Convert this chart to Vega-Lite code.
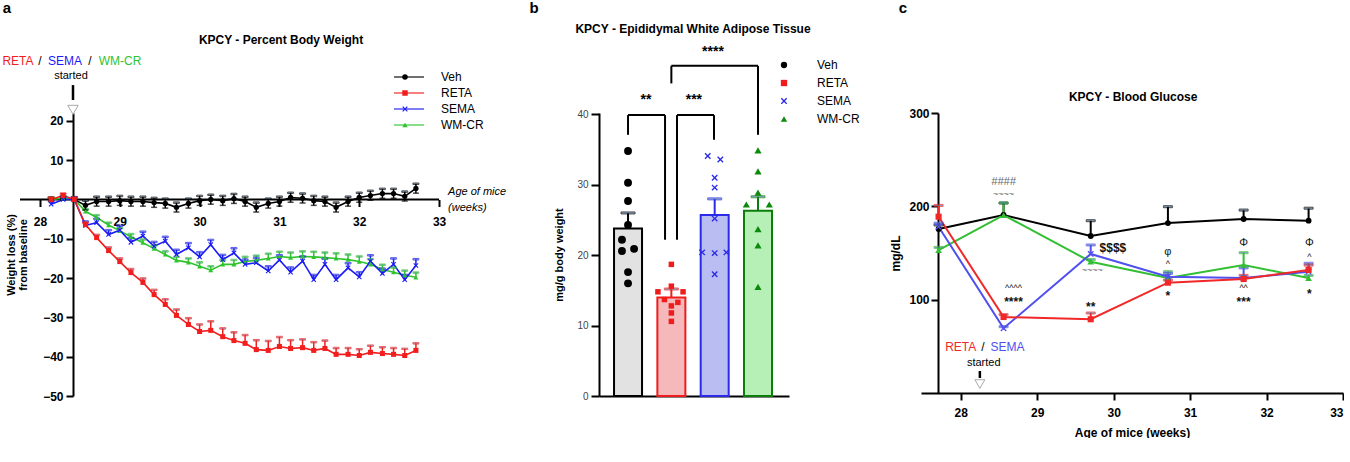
{
"$schema":"https://vega.github.io/schema/vega-lite/v6.json",
"background":"white",
"padding":{"left":2,"top":1,"right":0,"bottom":0},
"config":{
 "font":"Liberation Sans",
 "view":{"stroke":null},
 "axis":{"grid":false,"domainColor":"#000","domainWidth":2,"tickColor":"#000","tickWidth":2,"labelFont":"Liberation Sans","labelFontWeight":"bold","labelFontSize":12,"labelColor":"#000","titleFont":"Liberation Sans","titleFontWeight":"bold","titleFontSize":12,"titleColor":"#000"},
 "legend":{"labelFont":"Liberation Sans","labelColor":"#000"},
 "text":{"font":"Liberation Sans"}
},
"datasets":{
 "bw":[
{"d":28.14,"g":"Veh","v":0,"lo":-0.5,"hi":0.5},{"d":28.29,"g":"Veh","v":0.3,"lo":-0.2,"hi":0.8},{"d":28.43,"g":"Veh","v":0,"lo":-0.5,"hi":0.5},{"d":28.57,"g":"Veh","v":-1.5,"lo":-2.7,"hi":-0.3},{"d":28.71,"g":"Veh","v":-0.5,"lo":-1.7,"hi":0.7},{"d":28.86,"g":"Veh","v":-0.5,"lo":-1.7,"hi":0.7},{"d":29.0,"g":"Veh","v":-0.3,"lo":-1.5,"hi":0.9},{"d":29.14,"g":"Veh","v":-0.5,"lo":-1.7,"hi":0.7},{"d":29.29,"g":"Veh","v":-0.5,"lo":-1.7,"hi":0.7},{"d":29.43,"g":"Veh","v":-0.8,"lo":-2.0,"hi":0.4},{"d":29.57,"g":"Veh","v":-1.0,"lo":-2.2,"hi":0.2},{"d":29.71,"g":"Veh","v":-2.0,"lo":-3.2,"hi":-0.8},{"d":29.86,"g":"Veh","v":-1.0,"lo":-2.2,"hi":0.2},{"d":30.0,"g":"Veh","v":-0.3,"lo":-1.5,"hi":0.9},{"d":30.14,"g":"Veh","v":0,"lo":-1.2,"hi":1.2},{"d":30.29,"g":"Veh","v":-0.3,"lo":-1.5,"hi":0.9},{"d":30.43,"g":"Veh","v":0.2,"lo":-1.0,"hi":1.4},{"d":30.57,"g":"Veh","v":-0.5,"lo":-1.7,"hi":0.7},{"d":30.71,"g":"Veh","v":-2.0,"lo":-3.2,"hi":-0.8},{"d":30.86,"g":"Veh","v":-1.0,"lo":-2.2,"hi":0.2},{"d":31.0,"g":"Veh","v":-0.5,"lo":-1.7,"hi":0.7},{"d":31.14,"g":"Veh","v":0.5,"lo":-0.7,"hi":1.7},{"d":31.29,"g":"Veh","v":0.3,"lo":-0.9,"hi":1.5},{"d":31.43,"g":"Veh","v":-0.3,"lo":-1.5,"hi":0.9},{"d":31.57,"g":"Veh","v":-0.5,"lo":-1.7,"hi":0.7},{"d":31.71,"g":"Veh","v":-2.0,"lo":-3.2,"hi":-0.8},{"d":31.86,"g":"Veh","v":-0.5,"lo":-1.7,"hi":0.7},{"d":32.0,"g":"Veh","v":0.5,"lo":-0.7,"hi":1.7},{"d":32.14,"g":"Veh","v":1.0,"lo":-0.2,"hi":2.2},{"d":32.29,"g":"Veh","v":1.5,"lo":0.3,"hi":2.7},{"d":32.43,"g":"Veh","v":1.5,"lo":0.3,"hi":2.7},{"d":32.57,"g":"Veh","v":0.8,"lo":-0.4,"hi":2.0},{"d":32.71,"g":"Veh","v":2.8,"lo":1.6,"hi":4.0},
{"d":28.14,"g":"WM-CR","v":0,"hi":0.5},{"d":28.29,"g":"WM-CR","v":0.3,"hi":0.8},{"d":28.43,"g":"WM-CR","v":0,"hi":0.5},{"d":28.57,"g":"WM-CR","v":-3.0,"hi":-2.5},{"d":28.71,"g":"WM-CR","v":-4.6,"hi":-4.0},{"d":28.86,"g":"WM-CR","v":-6.5,"hi":-5.9},{"d":29.0,"g":"WM-CR","v":-8.0,"hi":-7.3},{"d":29.14,"g":"WM-CR","v":-9.5,"hi":-8.8},{"d":29.29,"g":"WM-CR","v":-11.0,"hi":-10.2},{"d":29.43,"g":"WM-CR","v":-12.5,"hi":-11.7},{"d":29.57,"g":"WM-CR","v":-14.0,"hi":-13.2},{"d":29.71,"g":"WM-CR","v":-15.5,"hi":-14.6},{"d":29.86,"g":"WM-CR","v":-16.0,"hi":-15.0},{"d":30.0,"g":"WM-CR","v":-17.0,"hi":-16.0},{"d":30.14,"g":"WM-CR","v":-18.0,"hi":-17.0},{"d":30.29,"g":"WM-CR","v":-16.5,"hi":-15.4},{"d":30.43,"g":"WM-CR","v":-16.5,"hi":-15.4},{"d":30.57,"g":"WM-CR","v":-15.8,"hi":-14.6},{"d":30.71,"g":"WM-CR","v":-15.5,"hi":-14.3},{"d":30.86,"g":"WM-CR","v":-15.0,"hi":-13.8},{"d":31.0,"g":"WM-CR","v":-14.5,"hi":-13.3},{"d":31.14,"g":"WM-CR","v":-14.8,"hi":-13.5},{"d":31.29,"g":"WM-CR","v":-14.5,"hi":-13.2},{"d":31.43,"g":"WM-CR","v":-14.6,"hi":-13.3},{"d":31.57,"g":"WM-CR","v":-14.8,"hi":-13.5},{"d":31.71,"g":"WM-CR","v":-15.0,"hi":-13.7},{"d":31.86,"g":"WM-CR","v":-15.3,"hi":-14.0},{"d":32.0,"g":"WM-CR","v":-15.8,"hi":-14.5},{"d":32.14,"g":"WM-CR","v":-16.5,"hi":-15.2},{"d":32.29,"g":"WM-CR","v":-17.8,"hi":-16.6},{"d":32.43,"g":"WM-CR","v":-18.5,"hi":-17.3},{"d":32.57,"g":"WM-CR","v":-19.3,"hi":-18.1},{"d":32.71,"g":"WM-CR","v":-19.8,"hi":-18.6},
{"d":28.14,"g":"SEMA","v":-1.2,"hi":-0.4},{"d":28.29,"g":"SEMA","v":0,"hi":0.6},{"d":28.43,"g":"SEMA","v":0,"hi":0.6},{"d":28.57,"g":"SEMA","v":-6.6,"hi":-5.6},{"d":28.71,"g":"SEMA","v":-5.9,"hi":-4.9},{"d":28.86,"g":"SEMA","v":-8.9,"hi":-7.8},{"d":29.0,"g":"SEMA","v":-7.8,"hi":-6.7},{"d":29.14,"g":"SEMA","v":-10.9,"hi":-9.8},{"d":29.29,"g":"SEMA","v":-9.3,"hi":-8.2},{"d":29.43,"g":"SEMA","v":-11.9,"hi":-10.8},{"d":29.57,"g":"SEMA","v":-10.6,"hi":-9.5},{"d":29.71,"g":"SEMA","v":-14.0,"hi":-12.8},{"d":29.86,"g":"SEMA","v":-12.3,"hi":-11.1},{"d":30.0,"g":"SEMA","v":-14.6,"hi":-13.4},{"d":30.14,"g":"SEMA","v":-11.5,"hi":-10.3},{"d":30.29,"g":"SEMA","v":-15.3,"hi":-14.1},{"d":30.43,"g":"SEMA","v":-13.6,"hi":-12.4},{"d":30.57,"g":"SEMA","v":-16.5,"hi":-15.3},{"d":30.71,"g":"SEMA","v":-16.1,"hi":-14.9},{"d":30.86,"g":"SEMA","v":-18.2,"hi":-17.0},{"d":31.0,"g":"SEMA","v":-15.4,"hi":-14.2},{"d":31.14,"g":"SEMA","v":-18.5,"hi":-17.3},{"d":31.29,"g":"SEMA","v":-15.7,"hi":-14.5},{"d":31.43,"g":"SEMA","v":-20.4,"hi":-19.2},{"d":31.57,"g":"SEMA","v":-16.5,"hi":-15.1},{"d":31.71,"g":"SEMA","v":-20.4,"hi":-19.2},{"d":31.86,"g":"SEMA","v":-17.4,"hi":-16.2},{"d":32.0,"g":"SEMA","v":-19.7,"hi":-18.5},{"d":32.14,"g":"SEMA","v":-15.7,"hi":-14.2},{"d":32.29,"g":"SEMA","v":-18.8,"hi":-17.6},{"d":32.43,"g":"SEMA","v":-16.5,"hi":-15.0},{"d":32.57,"g":"SEMA","v":-20.4,"hi":-19.2},{"d":32.71,"g":"SEMA","v":-16.8,"hi":-15.2},
{"d":28.14,"g":"RETA","v":0,"hi":0.5},{"d":28.29,"g":"RETA","v":1.0,"hi":1.5},{"d":28.43,"g":"RETA","v":0,"hi":0.5},{"d":28.57,"g":"RETA","v":-6.4,"hi":-5.9},{"d":28.71,"g":"RETA","v":-9.7,"hi":-9.0},{"d":28.86,"g":"RETA","v":-13.0,"hi":-12.2},{"d":29.0,"g":"RETA","v":-15.8,"hi":-15.0},{"d":29.14,"g":"RETA","v":-18.6,"hi":-17.7},{"d":29.29,"g":"RETA","v":-21.1,"hi":-20.1},{"d":29.43,"g":"RETA","v":-24.2,"hi":-23.0},{"d":29.57,"g":"RETA","v":-26.7,"hi":-25.4},{"d":29.71,"g":"RETA","v":-29.5,"hi":-28.0},{"d":29.86,"g":"RETA","v":-31.8,"hi":-30.2},{"d":30.0,"g":"RETA","v":-33.6,"hi":-31.8},{"d":30.14,"g":"RETA","v":-33.3,"hi":-31.0},{"d":30.29,"g":"RETA","v":-34.9,"hi":-32.8},{"d":30.43,"g":"RETA","v":-35.9,"hi":-33.8},{"d":30.57,"g":"RETA","v":-36.6,"hi":-34.5},{"d":30.71,"g":"RETA","v":-38.2,"hi":-35.8},{"d":30.86,"g":"RETA","v":-38.4,"hi":-36.0},{"d":31.0,"g":"RETA","v":-37.4,"hi":-35.0},{"d":31.14,"g":"RETA","v":-37.9,"hi":-35.8},{"d":31.29,"g":"RETA","v":-37.7,"hi":-35.6},{"d":31.43,"g":"RETA","v":-38.4,"hi":-36.3},{"d":31.57,"g":"RETA","v":-37.9,"hi":-35.9},{"d":31.71,"g":"RETA","v":-39.4,"hi":-37.8},{"d":31.86,"g":"RETA","v":-39.4,"hi":-37.8},{"d":32.0,"g":"RETA","v":-39.7,"hi":-38.1},{"d":32.14,"g":"RETA","v":-38.9,"hi":-37.2},{"d":32.29,"g":"RETA","v":-39.2,"hi":-37.6},{"d":32.43,"g":"RETA","v":-39.4,"hi":-37.8},{"d":32.57,"g":"RETA","v":-39.7,"hi":-38.0},{"d":32.71,"g":"RETA","v":-38.4,"hi":-36.6}
 ],
 "aAnn":[{"t":"RETA","x":27.725,"y":35.2,"g":"RETA"},{"t":"/","x":28.0,"y":35.2,"g":"Veh"},{"t":"SEMA","x":28.314,"y":35.2,"g":"SEMA"},{"t":"/","x":28.627,"y":35.2,"g":"Veh"},{"t":"WM-CR","x":29.003,"y":35.2,"g":"WM-CR"}],
 "eatBars":[{"g":"Veh","gx":1,"mean":23.8,"hi":26.0},{"g":"RETA","gx":2,"mean":14.0,"hi":15.2},{"g":"SEMA","gx":3,"mean":25.7,"hi":28.0},{"g":"WM-CR","gx":4,"mean":26.3,"hi":28.3}],
 "eatPts":[
{"g":"Veh","gx":1,"v":34.8},{"g":"Veh","gx":1,"v":30.3},{"g":"Veh","gx":1,"v":27.7},{"g":"Veh","gx":1,"v":24.3},{"g":"Veh","gx":0.86,"v":22.2},{"g":"Veh","gx":1.14,"v":20.9},{"g":"Veh","gx":0.86,"v":20.6},{"g":"Veh","gx":1,"v":17.6},{"g":"Veh","gx":1,"v":16.0},
{"g":"RETA","gx":2,"v":18.7},{"g":"RETA","gx":2,"v":15.6},{"g":"RETA","gx":1.69,"v":14.8},{"g":"RETA","gx":2.27,"v":14.8},{"g":"RETA","gx":1.84,"v":13.7},{"g":"RETA","gx":2.15,"v":13.3},{"g":"RETA","gx":2,"v":12.8},{"g":"RETA","gx":2,"v":11.8},{"g":"RETA","gx":2,"v":10.6},
{"g":"SEMA","gx":2.84,"v":34.1},{"g":"SEMA","gx":3.13,"v":33.6},{"g":"SEMA","gx":3,"v":31.0},{"g":"SEMA","gx":3,"v":29.6},{"g":"SEMA","gx":3,"v":25.2},{"g":"SEMA","gx":2.71,"v":20.4},{"g":"SEMA","gx":3,"v":20.3},{"g":"SEMA","gx":3.27,"v":20.4},{"g":"SEMA","gx":3,"v":17.3},
{"g":"WM-CR","gx":4,"v":34.9},{"g":"WM-CR","gx":4,"v":31.9},{"g":"WM-CR","gx":4,"v":28.9},{"g":"WM-CR","gx":3.73,"v":27.2},{"g":"WM-CR","gx":4.26,"v":27.2},{"g":"WM-CR","gx":4,"v":23.7},{"g":"WM-CR","gx":4,"v":21.4},{"g":"WM-CR","gx":4,"v":15.5}
 ],
 "brackets":[{"x":1,"x2":1,"y":37.1,"y2":39.9},{"x":1,"x2":1.854,"y":39.9,"y2":39.9},{"x":1.854,"x2":1.854,"y":39.9,"y2":22.2},{"x":2.13,"x2":2.13,"y":22.2,"y2":39.9},{"x":2.13,"x2":2.984,"y":39.9,"y2":39.9},{"x":2.984,"x2":2.984,"y":39.9,"y2":36.4},{"x":2,"x2":2,"y":44.4,"y2":46.9},{"x":2,"x2":4,"y":46.9,"y2":46.9},{"x":4,"x2":4,"y":46.9,"y2":37.1}],
 "bstars":[{"t":"**","x":1.415,"y":42.0},{"t":"***","x":2.52,"y":42.0},{"t":"****","x":2.96,"y":48.9}],
 "bg":[
{"d":27.71,"g":"Veh","v":175.7,"hi":180},{"d":28.56,"g":"Veh","v":190.7,"hi":203.6},{"d":29.70,"g":"Veh","v":168.2,"hi":184.6},{"d":30.71,"g":"Veh","v":182.1,"hi":199.6},{"d":31.70,"g":"Veh","v":186.4,"hi":196},{"d":32.55,"g":"Veh","v":184.6,"hi":198},
{"d":27.71,"g":"WM-CR","v":153.2,"hi":156},{"d":28.56,"g":"WM-CR","v":190.7,"hi":203.6},{"d":29.70,"g":"WM-CR","v":140.7,"hi":143},{"d":30.71,"g":"WM-CR","v":123.2,"hi":130},{"d":31.70,"g":"WM-CR","v":137.1,"hi":150.3},{"d":32.55,"g":"WM-CR","v":123.2,"hi":126},
{"d":27.71,"g":"SEMA","v":178.2,"hi":182},{"d":28.56,"g":"SEMA","v":69.3,"hi":71},{"d":29.70,"g":"SEMA","v":149,"hi":158.6},{"d":30.71,"g":"SEMA","v":124.6,"hi":128},{"d":31.70,"g":"SEMA","v":123.2,"hi":134},{"d":32.55,"g":"SEMA","v":130,"hi":139},
{"d":27.71,"g":"RETA","v":188.9,"hi":201},{"d":28.56,"g":"RETA","v":81.4,"hi":84},{"d":29.70,"g":"RETA","v":79,"hi":85.7},{"d":30.71,"g":"RETA","v":118.2,"hi":121},{"d":31.70,"g":"RETA","v":122.1,"hi":126},{"d":32.55,"g":"RETA","v":131.8,"hi":137}
 ],
 "cStars":[{"t":"****","x":28.69,"y":97},{"t":"$$$$","x":29.99,"y":155},{"t":"**","x":29.70,"y":92},{"t":"*","x":30.71,"y":104},{"t":"***","x":31.70,"y":97},{"t":"*","x":32.56,"y":106}],
 "cPhi":[{"t":"φ","x":30.71,"y":151},{"t":"Φ","x":31.70,"y":161},{"t":"Φ","x":32.56,"y":161}],
 "cCaret":[{"t":"^^^^","x":28.69,"y":112},{"t":"^","x":30.71,"y":138},{"t":"^^","x":31.70,"y":112},{"t":"^","x":32.56,"y":146}],
 "cGray":[{"t":"~~~~","x":28.56,"y":213},{"t":"~~~~","x":29.72,"y":132}],
 "cAnn":[{"t":"RETA","x":28.0,"y":49.3,"g":"RETA"},{"t":"/","x":28.29,"y":49.3,"g":"Veh"},{"t":"SEMA","x":28.61,"y":49.3,"g":"SEMA"}]
},
"spacing":132,
"bounds":"flush",
"resolve":{"scale":{"color":"independent","shape":"independent","size":"independent","fill":"independent","stroke":"independent"},"legend":{"color":"independent","shape":"independent","size":"independent","fill":"independent","stroke":"independent"}},
"hconcat":[
{
"width":447,"height":283,
"layer":[
 {"data":{"values":[{}]},"mark":{"type":"rule","strokeWidth":2,"color":"#000"},"encoding":{
   "x":{"datum":27.75,"type":"quantitative","scale":{"domain":[27.75,33.35],"nice":false,"zero":false},"axis":{"values":[28,29,30,31,32,33],"format":"d","offset":-196.5,"domain":false,"tickSize":7,"labelPadding":10,"title":null}},"x2":{"datum":33},
   "y":{"datum":0,"type":"quantitative","scale":{"domain":[-50,22],"nice":false,"zero":false},"axis":{"values":[20,10,-10,-20,-30,-40,-50],"offset":-53,"tickSize":7,"labelPadding":3,"title":["Weight loss (%)","from baseline"],"titleFontSize":11,"titlePadding":14,"titleLineHeight":12}}}},
 {"data":{"name":"bw"},"mark":{"type":"line","strokeWidth":1.6},"encoding":{
   "x":{"field":"d","type":"quantitative","scale":{"domain":[27.75,33.35],"nice":false,"zero":false},"axis":{"values":[28,29,30,31,32,33],"format":"d","offset":-196.5,"domain":false,"tickSize":7,"labelPadding":10,"title":null}},
   "y":{"field":"v","type":"quantitative","scale":{"domain":[-50,22],"nice":false,"zero":false},"axis":{"values":[20,10,-10,-20,-30,-40,-50],"offset":-53,"tickSize":7,"labelPadding":3,"title":["Weight loss (%)","from baseline"],"titleFontSize":11,"titlePadding":14,"titleLineHeight":12}},
   "stroke":{"field":"g","type":"nominal","scale":{"domain":["RETA","SEMA","WM-CR","Veh"],"range":["#f21d1d","#1b1bf5","#2fc42f","#000000"]},"legend":{"title":null,"orient":"none","legendX":373,"legendY":-42,"padding":0,"values":["Veh","RETA","SEMA","WM-CR"],"symbolType":"stroke","symbolSize":900,"symbolStrokeWidth":1.6,"clipHeight":12,"labelExpr":"''","labelFontSize":12,"rowPadding":4}}}},
 {"data":{"name":"bw"},"mark":{"type":"rule","strokeWidth":1.5},"encoding":{
   "x":{"field":"d","type":"quantitative","scale":{"domain":[27.75,33.35],"nice":false,"zero":false},"axis":{"values":[28,29,30,31,32,33],"format":"d","offset":-196.5,"domain":false,"tickSize":7,"labelPadding":10,"title":null}},
   "y":{"field":"v","type":"quantitative","scale":{"domain":[-50,22],"nice":false,"zero":false},"axis":{"values":[20,10,-10,-20,-30,-40,-50],"offset":-53,"tickSize":7,"labelPadding":3,"title":["Weight loss (%)","from baseline"],"titleFontSize":11,"titlePadding":14,"titleLineHeight":12}},"y2":{"field":"hi"},
   "stroke":{"field":"g","type":"nominal","scale":{"domain":["RETA","SEMA","WM-CR","Veh"],"range":["#f21d1d","#1b1bf5","#2fc42f","#000000"]},"legend":{"title":null,"orient":"none","legendX":373,"legendY":-42,"padding":0,"values":["Veh","RETA","SEMA","WM-CR"],"symbolType":"stroke","symbolSize":900,"symbolStrokeWidth":1.6,"clipHeight":12,"labelExpr":"''","labelFontSize":12,"rowPadding":4}}}},
 {"data":{"name":"bw"},"mark":{"type":"tick","orient":"horizontal","size":6,"thickness":1.5},"encoding":{
   "x":{"field":"d","type":"quantitative","scale":{"domain":[27.75,33.35],"nice":false,"zero":false},"axis":{"values":[28,29,30,31,32,33],"format":"d","offset":-196.5,"domain":false,"tickSize":7,"labelPadding":10,"title":null}},
   "y":{"field":"hi","type":"quantitative","scale":{"domain":[-50,22],"nice":false,"zero":false},"axis":{"values":[20,10,-10,-20,-30,-40,-50],"offset":-53,"tickSize":7,"labelPadding":3,"title":["Weight loss (%)","from baseline"],"titleFontSize":11,"titlePadding":14,"titleLineHeight":12}},
   "stroke":{"field":"g","type":"nominal","scale":{"domain":["RETA","SEMA","WM-CR","Veh"],"range":["#f21d1d","#1b1bf5","#2fc42f","#000000"]},"legend":{"title":null,"orient":"none","legendX":373,"legendY":-42,"padding":0,"values":["Veh","RETA","SEMA","WM-CR"],"symbolType":"stroke","symbolSize":900,"symbolStrokeWidth":1.6,"clipHeight":12,"labelExpr":"''","labelFontSize":12,"rowPadding":4}}}},
 {"data":{"name":"bw"},"transform":[{"filter":"isValid(datum.lo)"}],"mark":{"type":"rule","strokeWidth":1.5,"color":"#000"},"encoding":{
   "x":{"field":"d","type":"quantitative","scale":{"domain":[27.75,33.35],"nice":false,"zero":false},"axis":{"values":[28,29,30,31,32,33],"format":"d","offset":-196.5,"domain":false,"tickSize":7,"labelPadding":10,"title":null}},
   "y":{"field":"lo","type":"quantitative","scale":{"domain":[-50,22],"nice":false,"zero":false},"axis":{"values":[20,10,-10,-20,-30,-40,-50],"offset":-53,"tickSize":7,"labelPadding":3,"title":["Weight loss (%)","from baseline"],"titleFontSize":11,"titlePadding":14,"titleLineHeight":12}},"y2":{"field":"v"}}},
 {"data":{"name":"bw"},"transform":[{"filter":"isValid(datum.lo)"}],"mark":{"type":"tick","orient":"horizontal","size":6,"thickness":1.5,"color":"#000"},"encoding":{
   "x":{"field":"d","type":"quantitative","scale":{"domain":[27.75,33.35],"nice":false,"zero":false},"axis":{"values":[28,29,30,31,32,33],"format":"d","offset":-196.5,"domain":false,"tickSize":7,"labelPadding":10,"title":null}},
   "y":{"field":"lo","type":"quantitative","scale":{"domain":[-50,22],"nice":false,"zero":false},"axis":{"values":[20,10,-10,-20,-30,-40,-50],"offset":-53,"tickSize":7,"labelPadding":3,"title":["Weight loss (%)","from baseline"],"titleFontSize":11,"titlePadding":14,"titleLineHeight":12}}}},
 {"data":{"name":"bw"},"mark":{"type":"point","filled":true,"opacity":1},"encoding":{
   "x":{"field":"d","type":"quantitative","scale":{"domain":[27.75,33.35],"nice":false,"zero":false},"axis":{"values":[28,29,30,31,32,33],"format":"d","offset":-196.5,"domain":false,"tickSize":7,"labelPadding":10,"title":null}},
   "y":{"field":"v","type":"quantitative","scale":{"domain":[-50,22],"nice":false,"zero":false},"axis":{"values":[20,10,-10,-20,-30,-40,-50],"offset":-53,"tickSize":7,"labelPadding":3,"title":["Weight loss (%)","from baseline"],"titleFontSize":11,"titlePadding":14,"titleLineHeight":12}},
   "color":{"field":"g","type":"nominal","scale":{"domain":["Veh","RETA","SEMA","WM-CR"],"range":["#000000","#f21d1d","#1b1bf5","#2fc42f"]},
     "legend":{"title":null,"orient":"none","legendX":379,"legendY":-42,"padding":0,"labelFontSize":12,"symbolSize":30,"labelOffset":30,"rowPadding":4,"clipHeight":12}},
   "shape":{"field":"g","type":"nominal","scale":{"domain":["Veh","RETA","SEMA","WM-CR"],"range":["circle","square","M-1,-0.7L-0.7,-1L0,-0.3L0.7,-1L1,-0.7L0.3,0L1,0.7L0.7,1L0,0.3L-0.7,1L-1,0.7L-0.3,0Z","triangle-up"]},
     "legend":{"title":null,"orient":"none","legendX":379,"legendY":-42,"padding":0,"labelFontSize":12,"symbolSize":30,"labelOffset":30,"rowPadding":4,"clipHeight":12}},
   "size":{"field":"g","type":"nominal","scale":{"domain":["WM-CR","RETA","SEMA","Veh"],"range":[24,28,55,20]},"legend":null}}},
 {"data":{"name":"aAnn"},"mark":{"type":"text","fontSize":12},"encoding":{
   "x":{"field":"x","type":"quantitative","scale":{"domain":[27.75,33.35],"nice":false,"zero":false},"axis":{"values":[28,29,30,31,32,33],"format":"d","offset":-196.5,"domain":false,"tickSize":7,"labelPadding":10,"title":null}},
   "y":{"field":"y","type":"quantitative","scale":{"domain":[-50,22],"nice":false,"zero":false},"axis":{"values":[20,10,-10,-20,-30,-40,-50],"offset":-53,"tickSize":7,"labelPadding":3,"title":["Weight loss (%)","from baseline"],"titleFontSize":11,"titlePadding":14,"titleLineHeight":12}},
   "text":{"field":"t"},
   "fill":{"field":"g","type":"nominal","scale":{"domain":["SEMA","RETA","WM-CR","Veh"],"range":["#1b1bf5","#f21d1d","#2fc42f","#000000"]},"legend":null}}},
 {"data":{"values":[{}]},"mark":{"type":"text","text":"a","fontSize":15,"fontWeight":"bold","color":"#000"},"encoding":{
   "x":{"datum":27.587,"type":"quantitative","scale":{"domain":[27.75,33.35],"nice":false,"zero":false},"axis":{"values":[28,29,30,31,32,33],"format":"d","offset":-196.5,"domain":false,"tickSize":7,"labelPadding":10,"title":null}},
   "y":{"datum":48.7,"type":"quantitative","scale":{"domain":[-50,22],"nice":false,"zero":false},"axis":{"values":[20,10,-10,-20,-30,-40,-50],"offset":-53,"tickSize":7,"labelPadding":3,"title":["Weight loss (%)","from baseline"],"titleFontSize":11,"titlePadding":14,"titleLineHeight":12}}}},
 {"data":{"values":[{}]},"mark":{"type":"text","text":"KPCY - Percent Body Weight","fontSize":12,"fontWeight":"bold","color":"#000"},"encoding":{
   "x":{"datum":31.02,"type":"quantitative","scale":{"domain":[27.75,33.35],"nice":false,"zero":false},"axis":{"values":[28,29,30,31,32,33],"format":"d","offset":-196.5,"domain":false,"tickSize":7,"labelPadding":10,"title":null}},
   "y":{"datum":40.6,"type":"quantitative","scale":{"domain":[-50,22],"nice":false,"zero":false},"axis":{"values":[20,10,-10,-20,-30,-40,-50],"offset":-53,"tickSize":7,"labelPadding":3,"title":["Weight loss (%)","from baseline"],"titleFontSize":11,"titlePadding":14,"titleLineHeight":12}}}},
 {"data":{"values":[{}]},"mark":{"type":"text","text":"started","fontSize":11,"color":"#000"},"encoding":{
   "x":{"datum":28.389,"type":"quantitative","scale":{"domain":[27.75,33.35],"nice":false,"zero":false},"axis":{"values":[28,29,30,31,32,33],"format":"d","offset":-196.5,"domain":false,"tickSize":7,"labelPadding":10,"title":null}},
   "y":{"datum":31.4,"type":"quantitative","scale":{"domain":[-50,22],"nice":false,"zero":false},"axis":{"values":[20,10,-10,-20,-30,-40,-50],"offset":-53,"tickSize":7,"labelPadding":3,"title":["Weight loss (%)","from baseline"],"titleFontSize":11,"titlePadding":14,"titleLineHeight":12}}}},
 {"data":{"values":[{}]},"mark":{"type":"rule","strokeWidth":2.5,"color":"#000"},"encoding":{
   "x":{"datum":28.414,"type":"quantitative","scale":{"domain":[27.75,33.35],"nice":false,"zero":false},"axis":{"values":[28,29,30,31,32,33],"format":"d","offset":-196.5,"domain":false,"tickSize":7,"labelPadding":10,"title":null}},
   "y":{"datum":29.1,"type":"quantitative","scale":{"domain":[-50,22],"nice":false,"zero":false},"axis":{"values":[20,10,-10,-20,-30,-40,-50],"offset":-53,"tickSize":7,"labelPadding":3,"title":["Weight loss (%)","from baseline"],"titleFontSize":11,"titlePadding":14,"titleLineHeight":12}},"y2":{"datum":25.3}}},
 {"data":{"values":[{}]},"mark":{"type":"point","shape":"triangle-down","size":110,"filled":true,"fill":"#ffffff","stroke":"#aaaaaa","strokeWidth":1,"opacity":1},"encoding":{
   "x":{"datum":28.414,"type":"quantitative","scale":{"domain":[27.75,33.35],"nice":false,"zero":false},"axis":{"values":[28,29,30,31,32,33],"format":"d","offset":-196.5,"domain":false,"tickSize":7,"labelPadding":10,"title":null}},
   "y":{"datum":22.8,"type":"quantitative","scale":{"domain":[-50,22],"nice":false,"zero":false},"axis":{"values":[20,10,-10,-20,-30,-40,-50],"offset":-53,"tickSize":7,"labelPadding":3,"title":["Weight loss (%)","from baseline"],"titleFontSize":11,"titlePadding":14,"titleLineHeight":12}}}},
 {"data":{"values":[{}]},"mark":{"type":"text","text":"Age of mice","fontSize":11,"fontStyle":"italic","align":"left","color":"#000"},"encoding":{
   "x":{"datum":33.113,"type":"quantitative","scale":{"domain":[27.75,33.35],"nice":false,"zero":false},"axis":{"values":[28,29,30,31,32,33],"format":"d","offset":-196.5,"domain":false,"tickSize":7,"labelPadding":10,"title":null}},
   "y":{"datum":1.9,"type":"quantitative","scale":{"domain":[-50,22],"nice":false,"zero":false},"axis":{"values":[20,10,-10,-20,-30,-40,-50],"offset":-53,"tickSize":7,"labelPadding":3,"title":["Weight loss (%)","from baseline"],"titleFontSize":11,"titlePadding":14,"titleLineHeight":12}}}},
 {"data":{"values":[{}]},"mark":{"type":"text","text":"(weeks)","fontSize":11,"fontStyle":"italic","align":"left","color":"#000"},"encoding":{
   "x":{"datum":33.113,"type":"quantitative","scale":{"domain":[27.75,33.35],"nice":false,"zero":false},"axis":{"values":[28,29,30,31,32,33],"format":"d","offset":-196.5,"domain":false,"tickSize":7,"labelPadding":10,"title":null}},
   "y":{"datum":-2.2,"type":"quantitative","scale":{"domain":[-50,22],"nice":false,"zero":false},"axis":{"values":[20,10,-10,-20,-30,-40,-50],"offset":-53,"tickSize":7,"labelPadding":3,"title":["Weight loss (%)","from baseline"],"titleFontSize":11,"titlePadding":14,"titleLineHeight":12}}}}
]
},
{
"width":190,"height":283,
"layer":[
 {"data":{"name":"eatBars"},"mark":{"type":"bar","orient":"vertical","width":28,"strokeWidth":2},"encoding":{
   "x":{"field":"gx","type":"quantitative","scale":{"domain":[0.33,4.715],"nice":false,"zero":false,"padding":0},"axis":{"labels":false,"ticks":false,"title":null,"domainWidth":2}},
   "y":{"field":"mean","type":"quantitative","stack":null,"scale":{"domain":[0,40.2],"nice":false},"axis":{"values":[0,10,20,30,40],"title":"mg/g body weight","labelFontWeight":"normal","labelColor":"#444444","labelFontSize":10,"tickSize":8,"labelPadding":3,"titleFontSize":11,"titlePadding":12}},
   "fill":{"field":"g","type":"nominal","scale":{"domain":["RETA","SEMA","WM-CR","Veh"],"range":["#f5b9bb","#b9bdf2","#b6f0b6","#e2e2e2"]},"legend":null},
   "stroke":{"field":"g","type":"nominal","scale":{"domain":["RETA","SEMA","WM-CR","Veh"],"range":["#f01c1c","#2a2ae8","#0b7d0b","#000000"]},"legend":null}}},
 {"data":{"name":"eatBars"},"mark":{"type":"rule","strokeWidth":2},"encoding":{
   "x":{"field":"gx","type":"quantitative","scale":{"domain":[0.33,4.715],"nice":false,"zero":false,"padding":0},"axis":{"labels":false,"ticks":false,"title":null,"domainWidth":2}},
   "y":{"field":"mean","type":"quantitative","scale":{"domain":[0,40.2],"nice":false},"axis":{"values":[0,10,20,30,40],"title":"mg/g body weight","labelFontWeight":"normal","labelColor":"#444444","labelFontSize":10,"tickSize":8,"labelPadding":3,"titleFontSize":11,"titlePadding":12}},"y2":{"field":"hi"},
   "stroke":{"field":"g","type":"nominal","scale":{"domain":["RETA","SEMA","WM-CR","Veh"],"range":["#f01c1c","#2a2ae8","#0b7d0b","#000000"]},"legend":null}}},
 {"data":{"name":"eatBars"},"mark":{"type":"tick","orient":"horizontal","size":14,"thickness":2},"encoding":{
   "x":{"field":"gx","type":"quantitative","scale":{"domain":[0.33,4.715],"nice":false,"zero":false,"padding":0},"axis":{"labels":false,"ticks":false,"title":null,"domainWidth":2}},
   "y":{"field":"hi","type":"quantitative","scale":{"domain":[0,40.2],"nice":false},"axis":{"values":[0,10,20,30,40],"title":"mg/g body weight","labelFontWeight":"normal","labelColor":"#444444","labelFontSize":10,"tickSize":8,"labelPadding":3,"titleFontSize":11,"titlePadding":12}},
   "stroke":{"field":"g","type":"nominal","scale":{"domain":["RETA","SEMA","WM-CR","Veh"],"range":["#f01c1c","#2a2ae8","#0b7d0b","#000000"]},"legend":null}}},
 {"data":{"name":"eatPts"},"mark":{"type":"point","filled":true,"opacity":1},"encoding":{
   "x":{"field":"gx","type":"quantitative","scale":{"domain":[0.33,4.715],"nice":false,"zero":false,"padding":0},"axis":{"labels":false,"ticks":false,"title":null,"domainWidth":2}},
   "y":{"field":"v","type":"quantitative","scale":{"domain":[0,40.2],"nice":false},"axis":{"values":[0,10,20,30,40],"title":"mg/g body weight","labelFontWeight":"normal","labelColor":"#444444","labelFontSize":10,"tickSize":8,"labelPadding":3,"titleFontSize":11,"titlePadding":12}},
   "color":{"field":"g","type":"nominal","scale":{"domain":["Veh","RETA","SEMA","WM-CR"],"range":["#000000","#f01c1c","#2a2ae8","#0b8a0b"]},"legend":{"title":null,"orient":"none","legendX":179,"legendY":-54,"padding":0,"labelFontSize":12,"symbolSize":40,"labelOffset":27,"rowPadding":6}},
   "shape":{"field":"g","type":"nominal","scale":{"domain":["Veh","RETA","SEMA","WM-CR"],"range":["circle","square","M-1,-0.7L-0.7,-1L0,-0.3L0.7,-1L1,-0.7L0.3,0L1,0.7L0.7,1L0,0.3L-0.7,1L-1,0.7L-0.3,0Z","triangle-up"]},"legend":{"title":null,"orient":"none","legendX":179,"legendY":-54,"padding":0,"labelFontSize":12,"symbolSize":40,"labelOffset":27,"rowPadding":6}},
   "size":{"field":"g","type":"nominal","scale":{"domain":["RETA","SEMA","WM-CR","Veh"],"range":[30,62,26,36]},"legend":null}}},
 {"data":{"name":"brackets"},"mark":{"type":"rule","strokeWidth":2,"color":"#000"},"encoding":{
   "x":{"field":"x","type":"quantitative","scale":{"domain":[0.33,4.715],"nice":false,"zero":false,"padding":0},"axis":{"labels":false,"ticks":false,"title":null,"domainWidth":2}},"x2":{"field":"x2"},
   "y":{"field":"y","type":"quantitative","scale":{"domain":[0,40.2],"nice":false},"axis":{"values":[0,10,20,30,40],"title":"mg/g body weight","labelFontWeight":"normal","labelColor":"#444444","labelFontSize":10,"tickSize":8,"labelPadding":3,"titleFontSize":11,"titlePadding":12}},"y2":{"field":"y2"}}},
 {"data":{"name":"bstars"},"mark":{"type":"text","fontSize":14,"fontWeight":"bold","color":"#000"},"encoding":{
   "x":{"field":"x","type":"quantitative","scale":{"domain":[0.33,4.715],"nice":false,"zero":false,"padding":0},"axis":{"labels":false,"ticks":false,"title":null,"domainWidth":2}},
   "y":{"field":"y","type":"quantitative","scale":{"domain":[0,40.2],"nice":false},"axis":{"values":[0,10,20,30,40],"title":"mg/g body weight","labelFontWeight":"normal","labelColor":"#444444","labelFontSize":10,"tickSize":8,"labelPadding":3,"titleFontSize":11,"titlePadding":12}},"text":{"field":"t"}}},
 {"data":{"values":[{}]},"mark":{"type":"text","text":"b","fontSize":15,"fontWeight":"bold","color":"#000"},"encoding":{
   "x":{"datum":-1.17,"type":"quantitative","scale":{"domain":[0.33,4.715],"nice":false,"zero":false,"padding":0},"axis":{"labels":false,"ticks":false,"title":null,"domainWidth":2}},
   "y":{"datum":55.1,"type":"quantitative","scale":{"domain":[0,40.2],"nice":false},"axis":{"values":[0,10,20,30,40],"title":"mg/g body weight","labelFontWeight":"normal","labelColor":"#444444","labelFontSize":10,"tickSize":8,"labelPadding":3,"titleFontSize":11,"titlePadding":12}}}},
 {"data":{"values":[{}]},"mark":{"type":"text","text":"KPCY - Epididymal White Adipose Tissue","fontSize":12,"fontWeight":"bold","color":"#000"},"encoding":{
   "x":{"datum":2.5,"type":"quantitative","scale":{"domain":[0.33,4.715],"nice":false,"zero":false,"padding":0},"axis":{"labels":false,"ticks":false,"title":null,"domainWidth":2}},
   "y":{"datum":52.1,"type":"quantitative","scale":{"domain":[0,40.2],"nice":false},"axis":{"values":[0,10,20,30,40],"title":"mg/g body weight","labelFontWeight":"normal","labelColor":"#444444","labelFontSize":10,"tickSize":8,"labelPadding":3,"titleFontSize":11,"titlePadding":12}}}}
]
},
{
"width":422,"height":280,
"layer":[
 {"data":{"name":"bg"},"mark":{"type":"line","strokeWidth":2},"encoding":{
   "x":{"field":"d","type":"quantitative","scale":{"domain":[27.48,33],"nice":false,"zero":false},"axis":{"values":[28,29,30,31,32,33],"format":"d","tickSize":7,"labelPadding":7,"title":"Age of mice (weeks)","titlePadding":9}},
   "y":{"field":"v","type":"quantitative","scale":{"domain":[0,300],"nice":false},"axis":{"values":[100,200,300],"offset":-17,"tickSize":7,"labelPadding":2,"title":"mg/dL","titlePadding":6}},
   "stroke":{"field":"g","type":"nominal","scale":{"domain":["Veh","RETA","SEMA","WM-CR"],"range":["#000000","#f02828","#5050ee","#33bf33"]},"legend":null}}},
 {"data":{"name":"bg"},"mark":{"type":"rule","strokeWidth":2},"encoding":{
   "x":{"field":"d","type":"quantitative","scale":{"domain":[27.48,33],"nice":false,"zero":false},"axis":{"values":[28,29,30,31,32,33],"format":"d","tickSize":7,"labelPadding":7,"title":"Age of mice (weeks)","titlePadding":9}},
   "y":{"field":"v","type":"quantitative","scale":{"domain":[0,300],"nice":false},"axis":{"values":[100,200,300],"offset":-17,"tickSize":7,"labelPadding":2,"title":"mg/dL","titlePadding":6}},"y2":{"field":"hi"},
   "stroke":{"field":"g","type":"nominal","scale":{"domain":["Veh","RETA","SEMA","WM-CR"],"range":["#000000","#f02828","#5050ee","#33bf33"]},"legend":null}}},
 {"data":{"name":"bg"},"mark":{"type":"tick","orient":"horizontal","size":9,"thickness":2},"encoding":{
   "x":{"field":"d","type":"quantitative","scale":{"domain":[27.48,33],"nice":false,"zero":false},"axis":{"values":[28,29,30,31,32,33],"format":"d","tickSize":7,"labelPadding":7,"title":"Age of mice (weeks)","titlePadding":9}},
   "y":{"field":"hi","type":"quantitative","scale":{"domain":[0,300],"nice":false},"axis":{"values":[100,200,300],"offset":-17,"tickSize":7,"labelPadding":2,"title":"mg/dL","titlePadding":6}},
   "stroke":{"field":"g","type":"nominal","scale":{"domain":["Veh","RETA","SEMA","WM-CR"],"range":["#000000","#f02828","#5050ee","#33bf33"]},"legend":null}}},
 {"data":{"name":"bg"},"mark":{"type":"point","filled":true,"opacity":1},"encoding":{
   "x":{"field":"d","type":"quantitative","scale":{"domain":[27.48,33],"nice":false,"zero":false},"axis":{"values":[28,29,30,31,32,33],"format":"d","tickSize":7,"labelPadding":7,"title":"Age of mice (weeks)","titlePadding":9}},
   "y":{"field":"v","type":"quantitative","scale":{"domain":[0,300],"nice":false},"axis":{"values":[100,200,300],"offset":-17,"tickSize":7,"labelPadding":2,"title":"mg/dL","titlePadding":6}},
   "color":{"field":"g","type":"nominal","scale":{"domain":["Veh","RETA","SEMA","WM-CR"],"range":["#000000","#f02828","#5050ee","#33bf33"]},"legend":null},
   "shape":{"field":"g","type":"nominal","scale":{"domain":["Veh","RETA","SEMA","WM-CR"],"range":["circle","square","M-1,-0.7L-0.7,-1L0,-0.3L0.7,-1L1,-0.7L0.3,0L1,0.7L0.7,1L0,0.3L-0.7,1L-1,0.7L-0.3,0Z","triangle-up"]},"legend":null},
   "size":{"field":"g","type":"nominal","scale":{"domain":["Veh","RETA","SEMA","WM-CR"],"range":[34,44,70,36]},"legend":null}}},
 {"data":{"name":"cStars"},"mark":{"type":"text","fontSize":12,"fontWeight":"bold","color":"#111"},"encoding":{
   "x":{"field":"x","type":"quantitative","scale":{"domain":[27.48,33],"nice":false,"zero":false},"axis":{"values":[28,29,30,31,32,33],"format":"d","tickSize":7,"labelPadding":7,"title":"Age of mice (weeks)","titlePadding":9}},
   "y":{"field":"y","type":"quantitative","scale":{"domain":[0,300],"nice":false},"axis":{"values":[100,200,300],"offset":-17,"tickSize":7,"labelPadding":2,"title":"mg/dL","titlePadding":6}},"text":{"field":"t"}}},
 {"data":{"name":"cPhi"},"mark":{"type":"text","fontSize":11,"color":"#111"},"encoding":{
   "x":{"field":"x","type":"quantitative","scale":{"domain":[27.48,33],"nice":false,"zero":false},"axis":{"values":[28,29,30,31,32,33],"format":"d","tickSize":7,"labelPadding":7,"title":"Age of mice (weeks)","titlePadding":9}},
   "y":{"field":"y","type":"quantitative","scale":{"domain":[0,300],"nice":false},"axis":{"values":[100,200,300],"offset":-17,"tickSize":7,"labelPadding":2,"title":"mg/dL","titlePadding":6}},"text":{"field":"t"}}},
 {"data":{"name":"cCaret"},"mark":{"type":"text","fontSize":9,"color":"#111"},"encoding":{
   "x":{"field":"x","type":"quantitative","scale":{"domain":[27.48,33],"nice":false,"zero":false},"axis":{"values":[28,29,30,31,32,33],"format":"d","tickSize":7,"labelPadding":7,"title":"Age of mice (weeks)","titlePadding":9}},
   "y":{"field":"y","type":"quantitative","scale":{"domain":[0,300],"nice":false},"axis":{"values":[100,200,300],"offset":-17,"tickSize":7,"labelPadding":2,"title":"mg/dL","titlePadding":6}},"text":{"field":"t"}}},
 {"data":{"name":"cGray"},"mark":{"type":"text","fontSize":9,"color":"#666"},"encoding":{
   "x":{"field":"x","type":"quantitative","scale":{"domain":[27.48,33],"nice":false,"zero":false},"axis":{"values":[28,29,30,31,32,33],"format":"d","tickSize":7,"labelPadding":7,"title":"Age of mice (weeks)","titlePadding":9}},
   "y":{"field":"y","type":"quantitative","scale":{"domain":[0,300],"nice":false},"axis":{"values":[100,200,300],"offset":-17,"tickSize":7,"labelPadding":2,"title":"mg/dL","titlePadding":6}},"text":{"field":"t"}}},
 {"data":{"name":"cAnn"},"mark":{"type":"text","fontSize":12},"encoding":{
   "x":{"field":"x","type":"quantitative","scale":{"domain":[27.48,33],"nice":false,"zero":false},"axis":{"values":[28,29,30,31,32,33],"format":"d","tickSize":7,"labelPadding":7,"title":"Age of mice (weeks)","titlePadding":9}},
   "y":{"field":"y","type":"quantitative","scale":{"domain":[0,300],"nice":false},"axis":{"values":[100,200,300],"offset":-17,"tickSize":7,"labelPadding":2,"title":"mg/dL","titlePadding":6}},"text":{"field":"t"},
   "fill":{"field":"g","type":"nominal","scale":{"domain":["Veh","RETA","SEMA","WM-CR"],"range":["#000000","#f02828","#5050ee","#33bf33"]},"legend":null}}},
 {"data":{"values":[{}]},"mark":{"type":"text","text":"####","fontSize":11,"fontStyle":"italic","color":"#666"},"encoding":{
   "x":{"datum":28.56,"type":"quantitative","scale":{"domain":[27.48,33],"nice":false,"zero":false},"axis":{"values":[28,29,30,31,32,33],"format":"d","tickSize":7,"labelPadding":7,"title":"Age of mice (weeks)","titlePadding":9}},
   "y":{"datum":226,"type":"quantitative","scale":{"domain":[0,300],"nice":false},"axis":{"values":[100,200,300],"offset":-17,"tickSize":7,"labelPadding":2,"title":"mg/dL","titlePadding":6}}}},
 {"data":{"values":[{}]},"mark":{"type":"text","text":"started","fontSize":11,"color":"#000"},"encoding":{
   "x":{"datum":28.30,"type":"quantitative","scale":{"domain":[27.48,33],"nice":false,"zero":false},"axis":{"values":[28,29,30,31,32,33],"format":"d","tickSize":7,"labelPadding":7,"title":"Age of mice (weeks)","titlePadding":9}},
   "y":{"datum":32.1,"type":"quantitative","scale":{"domain":[0,300],"nice":false},"axis":{"values":[100,200,300],"offset":-17,"tickSize":7,"labelPadding":2,"title":"mg/dL","titlePadding":6}}}},
 {"data":{"values":[{}]},"mark":{"type":"rule","strokeWidth":2.5,"color":"#000"},"encoding":{
   "x":{"datum":28.25,"type":"quantitative","scale":{"domain":[27.48,33],"nice":false,"zero":false},"axis":{"values":[28,29,30,31,32,33],"format":"d","tickSize":7,"labelPadding":7,"title":"Age of mice (weeks)","titlePadding":9}},
   "y":{"datum":23.6,"type":"quantitative","scale":{"domain":[0,300],"nice":false},"axis":{"values":[100,200,300],"offset":-17,"tickSize":7,"labelPadding":2,"title":"mg/dL","titlePadding":6}},"y2":{"datum":16.1}}},
 {"data":{"values":[{}]},"mark":{"type":"point","shape":"triangle-down","size":100,"filled":true,"fill":"#ffffff","stroke":"#aaaaaa","strokeWidth":1,"opacity":1},"encoding":{
   "x":{"datum":28.25,"type":"quantitative","scale":{"domain":[27.48,33],"nice":false,"zero":false},"axis":{"values":[28,29,30,31,32,33],"format":"d","tickSize":7,"labelPadding":7,"title":"Age of mice (weeks)","titlePadding":9}},
   "y":{"datum":9.6,"type":"quantitative","scale":{"domain":[0,300],"nice":false},"axis":{"values":[100,200,300],"offset":-17,"tickSize":7,"labelPadding":2,"title":"mg/dL","titlePadding":6}}}},
 {"data":{"values":[{}]},"mark":{"type":"text","text":"c","fontSize":15,"fontWeight":"bold","color":"#000"},"encoding":{
   "x":{"datum":27.244,"type":"quantitative","scale":{"domain":[27.48,33],"nice":false,"zero":false},"axis":{"values":[28,29,30,31,32,33],"format":"d","tickSize":7,"labelPadding":7,"title":"Age of mice (weeks)","titlePadding":9}},
   "y":{"datum":412.5,"type":"quantitative","scale":{"domain":[0,300],"nice":false},"axis":{"values":[100,200,300],"offset":-17,"tickSize":7,"labelPadding":2,"title":"mg/dL","titlePadding":6}}}},
 {"data":{"values":[{}]},"mark":{"type":"text","text":"KPCY - Blood Glucose","fontSize":12,"fontWeight":"bold","color":"#000"},"encoding":{
   "x":{"datum":30.255,"type":"quantitative","scale":{"domain":[27.48,33],"nice":false,"zero":false},"axis":{"values":[28,29,30,31,32,33],"format":"d","tickSize":7,"labelPadding":7,"title":"Age of mice (weeks)","titlePadding":9}},
   "y":{"datum":317,"type":"quantitative","scale":{"domain":[0,300],"nice":false},"axis":{"values":[100,200,300],"offset":-17,"tickSize":7,"labelPadding":2,"title":"mg/dL","titlePadding":6}}}}
]
}
]
}
